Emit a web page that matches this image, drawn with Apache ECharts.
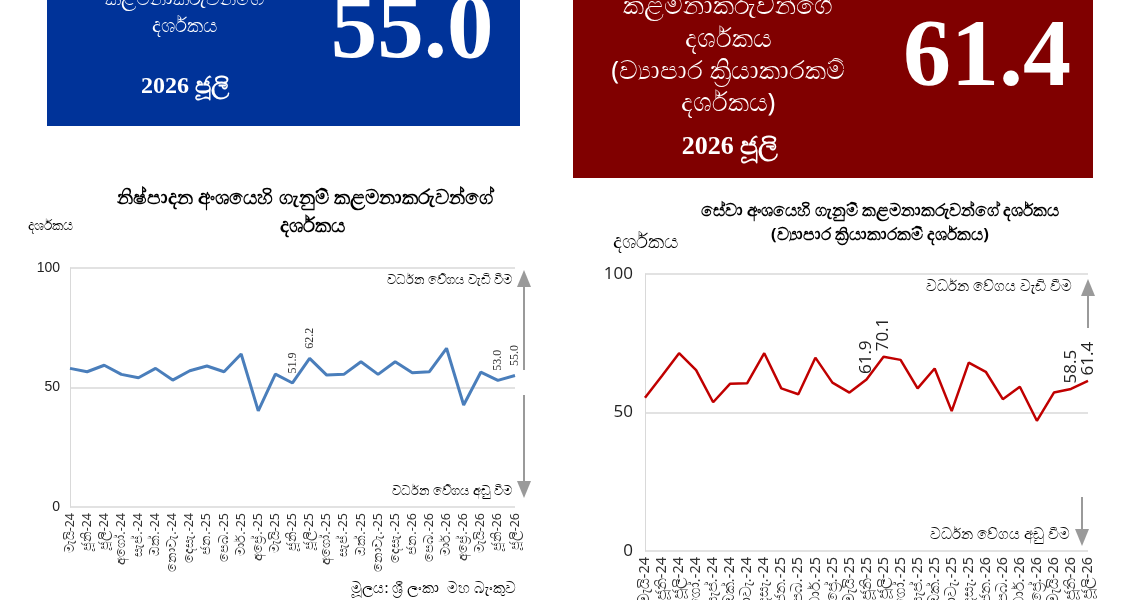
<!DOCTYPE html>
<html>
<head>
<meta charset="utf-8">
<script src="https://cdn.jsdelivr.net/npm/echarts@6/dist/echarts.min.js"></script>
</head>
<body style="margin:0">
<div id="main" style="width:1125px;height:600px"></div>
<script type="text/javascript">
// months, May-24 .. Jul-26
var months = ['මැයි-24', 'ජූනි-24', 'ජූලි-24', 'අගෝ.-24', 'සැප්.-24', 'ඔක්.-24', 'නොවැ.-24', 'දෙසැ.-24',
  'ජන.-25', 'පෙබ.-25', 'මාර්.-25', 'අප්‍රේ.-25', 'මැයි-25', 'ජූනි-25', 'ජූලි-25', 'අගෝ.-25', 'සැප්.-25',
  'ඔක්.-25', 'නොවැ.-25', 'දෙසැ.-25', 'ජන.-26', 'පෙබ.-26', 'මාර්.-26', 'අප්‍රේ.-26', 'මැයි-26', 'ජූනි-26', 'ජූලි-26'];
// manufacturing PMI
var mfgValues = [58.0, 56.6, 59.3, 55.5, 54.1, 58.0, 53.1, 57.0, 59.0, 56.6, 64.0, 40.2, 55.6, 51.9,
  62.2, 55.2, 55.5, 60.8, 55.5, 60.8, 56.2, 56.6, 66.4, 42.7, 56.4, 53.0, 55.0];
var mfgLabelIdx = [13, 14, 25, 26];
// services (business activity index)
var svcValues = [55.3, 63.3, 71.4, 65.3, 53.7, 60.4, 60.6, 71.4, 58.7, 56.6, 69.8, 60.8, 57.2, 61.9,
  70.1, 69.0, 58.7, 65.9, 50.5, 68.0, 64.7, 54.8, 59.3, 47.0, 57.2, 58.5, 61.4];
var svcLabelIdx = [13, 14, 25, 26];
var yTicks = [0, 50, 100];

var mfgLatest = '55.0', svcLatest = '61.4';

var sinFont = "'Noto Sans', 'DejaVu Sans', sans-serif";
var serif = "'Liberation Serif', serif";
var gray = '#9a9a9a';

function withLabels(vals, idx, style) {
  return vals.map(function (v, i) {
    if (idx.indexOf(i) < 0) return v;
    return { value: v, label: Object.assign({ show: true }, style) };
  });
}

function txt(x, y, s, size, opt) {
  opt = opt || {};
  return {
    type: 'text', x: x, y: y, z: 10,
    style: {
      text: s, fill: opt.fill || '#000', fontSize: size,
      fontFamily: opt.font || sinFont, fontWeight: opt.weight || 'normal',
      textAlign: opt.align || 'center', textVerticalAlign: 'middle'
    }
  };
}

function arrow(x, y1, y2, up) {
  // shaft plus triangular head
  var head = up
    ? [[x, y1], [x - 7, y1 + 17], [x + 7, y1 + 17]]
    : [[x, y2], [x - 7, y2 - 17], [x + 7, y2 - 17]];
  return [
    { type: 'line', z: 10, shape: { x1: x, y1: up ? y1 + 15 : y1, x2: x, y2: up ? y2 : y2 - 15 },
      style: { stroke: gray, lineWidth: 2 } },
    { type: 'polygon', z: 10, shape: { points: head }, style: { fill: gray } }
  ];
}

var myChart = echarts.init(document.getElementById('main'));

var graphics = [
  { type: 'rect', shape: { x: 47, y: -10, width: 473, height: 136 }, style: { fill: '#003399' } },
  { type: 'rect', shape: { x: 573, y: -10, width: 520, height: 188 }, style: { fill: '#800000' } },
  txt(184, -1, 'කළමනාකරුවන්ගේ', 20, { fill: '#fff' }),
  txt(184, 26, 'දර්ශකය', 20, { fill: '#fff' }),
  txt(185, 87, '2026 ජූලි', 24, { fill: '#fff', weight: 'bold', font: serif }),
  txt(412, 33, mfgLatest, 93, { fill: '#fff', weight: 'bold', font: serif }),
  txt(728, 7, 'කළමනාකරුවන්ගේ', 26, { fill: '#fff' }),
  txt(728, 40, 'දර්ශකය', 26, { fill: '#fff' }),
  txt(728, 72, '(ව්‍යාපාර ක්‍රියාකාරකම්', 26, { fill: '#fff' }),
  txt(728, 104, 'දර්ශකය)', 26, { fill: '#fff' }),
  txt(730, 147, '2026 ජූලි', 26, { fill: '#fff', weight: 'bold', font: serif }),
  txt(987, 60, svcLatest, 96, { fill: '#fff', weight: 'bold', font: serif }),
  // left chart titles / notes
  txt(305, 198, 'නිෂ්පාදන අංශයෙහි ගැනුම් කළමනාකරුවන්ගේ', 19.5, { weight: 'bold' }),
  txt(312, 226, 'දර්ශකය', 19.5, { weight: 'bold' }),
  txt(28, 226, 'දර්ශකය', 13.5, { align: 'left' }),
  txt(512, 280, 'වර්ධන වේගය වැඩි වීම', 13.3, { align: 'right' }),
  txt(512, 491, 'වර්ධන වේගය අඩු වීම', 13.3, { align: 'right' }),
  txt(516, 589, 'මූලය: ශ්‍රී ලංකා  මහ බැංකුව', 15, { align: 'right' }),
  // right chart titles / notes
  txt(880, 211, 'සේවා අංශයෙහි ගැනුම් කළමනාකරුවන්ගේ දර්ශකය', 16.5, { weight: 'bold' }),
  txt(880, 235, '(ව්‍යාපාර ක්‍රියාකාරකම් දර්ශකය)', 16.5, { weight: 'bold' }),
  txt(613, 242, 'දර්ශකය', 20, { align: 'left' }),
  txt(1072, 287, 'වර්ධන වේගය වැඩි වීම', 15.3, { align: 'right' }),
  txt(1070, 535, 'වර්ධන වේගය අඩු වීම', 15.3, { align: 'right' })
];
graphics = graphics
  .concat(arrow(524, 270, 370, true)).concat(arrow(524, 395, 498, false))
  .concat(arrow(1088, 279, 328, true)).concat(arrow(1082, 497, 546, false));

var dotStyle = { color: 'rgba(0,0,0,0)' };

var option = {
  backgroundColor: '#fff',
  animation: false,
  grid: [
    { left: 70, top: 268, width: 445, height: 239, outerBoundsMode: 'none', containLabel: false },
    { left: 645, top: 274, width: 443, height: 277, outerBoundsMode: 'none', containLabel: false }
  ],
  xAxis: [
    { type: 'category', gridIndex: 0, data: months, boundaryGap: false,
      axisLine: { show: false }, axisTick: { show: false },
      axisLabel: { rotate: 90, fontSize: 12.5, color: '#333', fontFamily: sinFont, margin: 6, interval: 0 } },
    { type: 'category', gridIndex: 1, data: months, boundaryGap: false,
      axisLine: { show: false }, axisTick: { show: false },
      axisLabel: { rotate: 90, fontSize: 14.5, color: '#333', fontFamily: sinFont, margin: 6, interval: 0 } }
  ],
  yAxis: [
    { type: 'value', gridIndex: 0, min: yTicks[0], max: yTicks[2], interval: 50,
      axisLine: { show: true, lineStyle: { color: '#d9d9d9' } }, axisTick: { show: false },
      splitLine: { lineStyle: { color: '#d9d9d9', width: 1.5 } },
      axisLabel: { fontSize: 14, color: '#222', fontFamily: 'Liberation Sans', margin: 10 } },
    { type: 'value', gridIndex: 1, min: yTicks[0], max: yTicks[2], interval: 50,
      axisLine: { show: true, lineStyle: { color: '#d9d9d9' } }, axisTick: { show: false },
      splitLine: { lineStyle: { color: '#d9d9d9', width: 1.5 } },
      axisLabel: { fontSize: 17, color: '#222', fontFamily: 'Open Sans', margin: 12 } }
  ],
  series: [
    { type: 'line', xAxisIndex: 0, yAxisIndex: 0, symbol: 'circle', symbolSize: 1, showSymbol: true,
      itemStyle: dotStyle, lineStyle: { color: '#4A7EBB', width: 3 },
      data: withLabels(mfgValues, mfgLabelIdx, { position: 'top', rotate: 90, align: 'left', verticalAlign: 'middle',
        distance: 9, fontSize: 12, color: '#333', fontFamily: serif, formatter: function (p) { return p.value.toFixed(1); } }) },
    { type: 'line', xAxisIndex: 1, yAxisIndex: 1, symbol: 'circle', symbolSize: 1, showSymbol: true,
      itemStyle: dotStyle, lineStyle: { color: '#C00000', width: 2.5 },
      data: withLabels(svcValues, svcLabelIdx, { position: 'top', rotate: 90, align: 'left', verticalAlign: 'middle',
        distance: 5, fontSize: 17, color: '#222', fontFamily: 'Open Sans', formatter: function (p) { return p.value.toFixed(1); } }) }
  ],
  graphic: graphics
};
myChart.setOption(option);
</script>
</body>
</html>
